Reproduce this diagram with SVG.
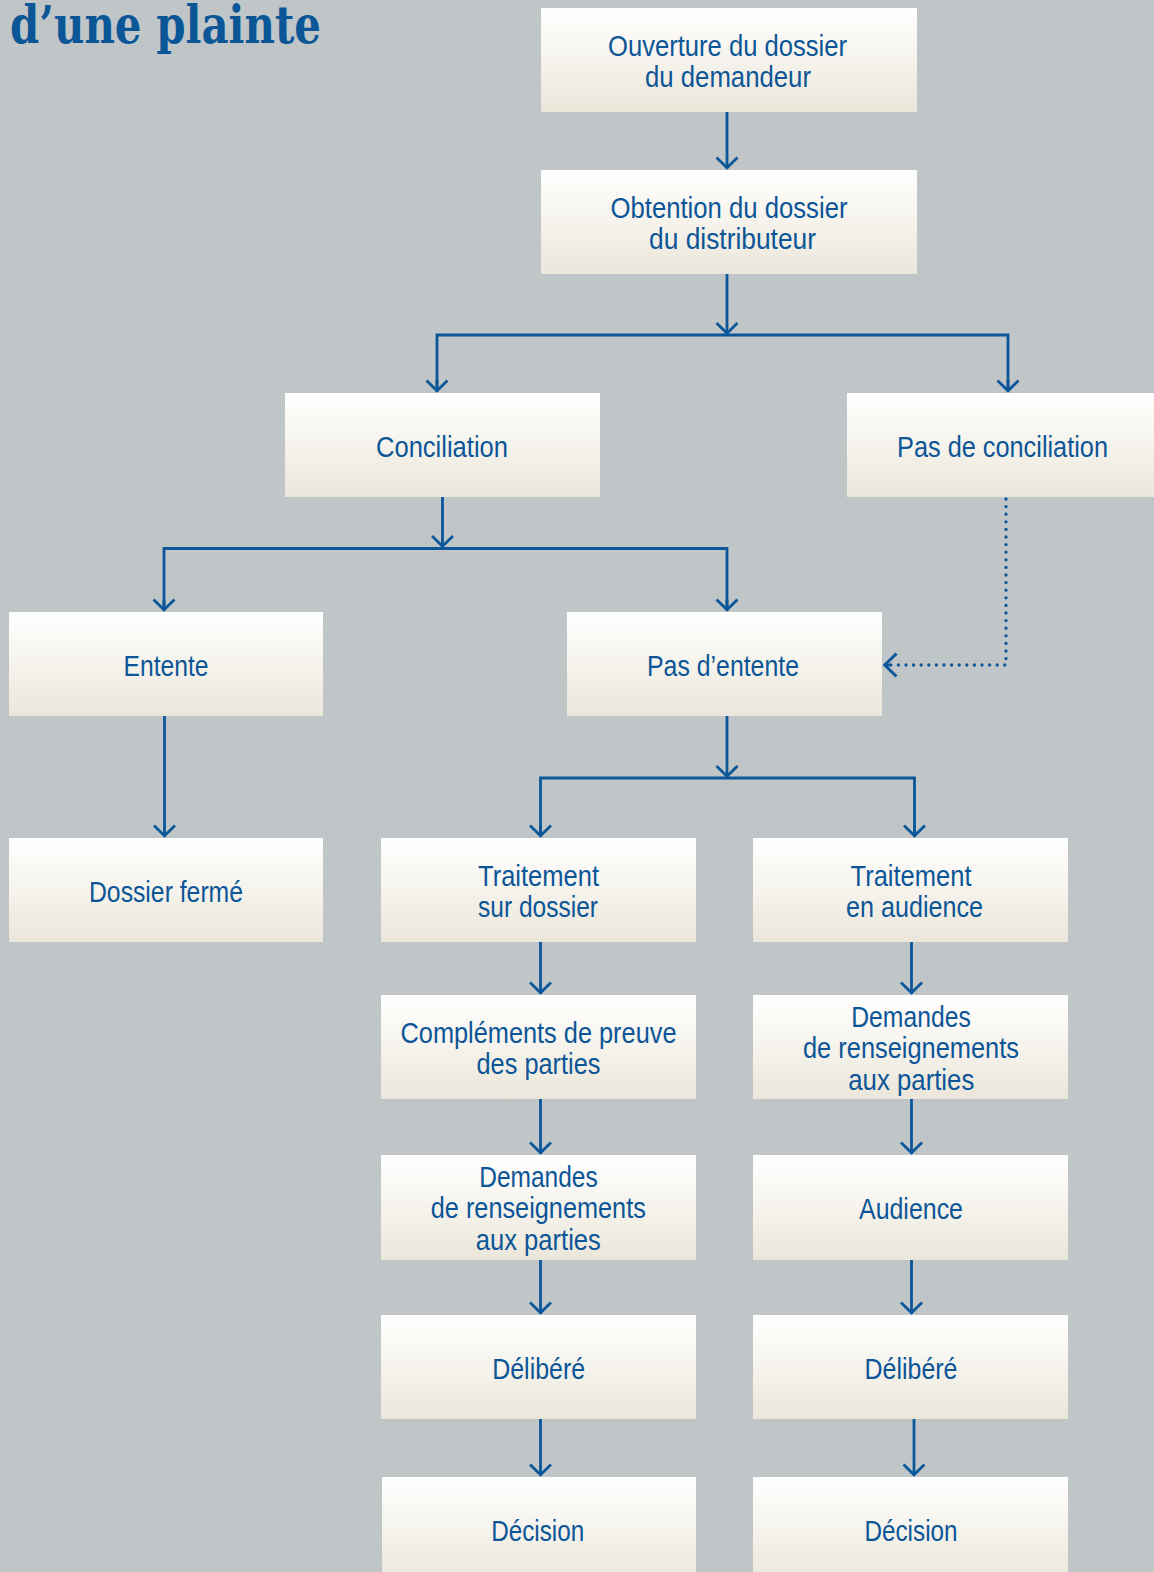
<svg xmlns="http://www.w3.org/2000/svg" width="1154" height="1572" viewBox="0 0 1154 1572">
  <defs>
    <linearGradient id="boxfill" x1="0" y1="0" x2="0" y2="1">
      <stop offset="0" stop-color="#ffffff"/>
      <stop offset="0.5" stop-color="#f5f3ec"/>
      <stop offset="1" stop-color="#ebe6da"/>
    </linearGradient>
    <marker id="arrow" markerUnits="userSpaceOnUse" viewBox="-14 -13 16 26" refX="0" refY="0" markerWidth="16" markerHeight="26" orient="auto">
      <path d="M-11,-10.5 L-0.8,0 L-11,10.5" fill="none" stroke="#0b5799" stroke-width="2.8" stroke-linejoin="miter"/>
    </marker>
    <marker id="arrowdot" markerUnits="userSpaceOnUse" viewBox="-16 -14 18 28" refX="0" refY="0" markerWidth="18" markerHeight="28" orient="auto">
      <path d="M-12.5,-11.5 L-0.8,0 L-12.5,11.5" fill="none" stroke="#0b5799" stroke-width="3" stroke-linejoin="miter"/>
    </marker>
  </defs>
  <style>
    .box { fill: url(#boxfill); }
    .lbl { font-family: "Liberation Sans Narrow", "Liberation Sans", Arial, sans-serif; font-size: 30px; fill: #0c5597; text-anchor: middle; }
    .title { font-family: "DejaVu Serif", "Liberation Serif", serif; font-weight: bold; font-size: 53px; fill: #0a5697; }
    .conn { fill: none; stroke: #0b5799; stroke-width: 2.8; }
    .arr { marker-end: url(#arrow); }
    .dot { fill: none; stroke: #0b5799; stroke-width: 3.3; stroke-linecap: round; stroke-dasharray: 0 7.6; }
  </style>
  <rect x="0" y="0" width="1154" height="1572" fill="#c0c5c8"/>

  <text class="title" x="10" y="43" textLength="311" lengthAdjust="spacingAndGlyphs">d’une plainte</text>

  <g id="connectors">
    <line class="conn arr" x1="727" y1="112" x2="727" y2="168.5"/>
    <line class="conn arr" x1="727" y1="274" x2="727" y2="334"/>
    <polyline class="conn" points="437,391.5 437,335 1008,335 1008,391.5"/>
    <line class="conn arr" x1="437" y1="380" x2="437" y2="391.5"/>
    <line class="conn arr" x1="1008" y1="380" x2="1008" y2="391.5"/>

    <line class="conn arr" x1="442.5" y1="497" x2="442.5" y2="547"/>
    <polyline class="conn" points="164,610.5 164,548.5 727,548.5 727,610.5"/>
    <line class="conn arr" x1="164" y1="600" x2="164" y2="610.5"/>
    <line class="conn arr" x1="727" y1="600" x2="727" y2="610.5"/>

    <polyline class="dot" points="1006,499 1006,665 890,665"/>
    <line class="conn" x1="890" y1="665" x2="884" y2="665" marker-end="url(#arrowdot)" stroke-width="0.1"/>

    <line class="conn arr" x1="164.5" y1="716" x2="164.5" y2="836.5"/>

    <line class="conn arr" x1="727" y1="716" x2="727" y2="777"/>
    <polyline class="conn" points="540.5,836.5 540.5,778 914.5,778 914.5,836.5"/>
    <line class="conn arr" x1="540.5" y1="825" x2="540.5" y2="836.5"/>
    <line class="conn arr" x1="914.5" y1="825" x2="914.5" y2="836.5"/>

    <line class="conn arr" x1="540.5" y1="942" x2="540.5" y2="993.5"/>
    <line class="conn arr" x1="540.5" y1="1099" x2="540.5" y2="1153.5"/>
    <line class="conn arr" x1="540.5" y1="1260" x2="540.5" y2="1313.5"/>
    <line class="conn arr" x1="540.5" y1="1419" x2="540.5" y2="1475.5"/>

    <line class="conn arr" x1="911.5" y1="942" x2="911.5" y2="993.5"/>
    <line class="conn arr" x1="911.5" y1="1099" x2="911.5" y2="1153.5"/>
    <line class="conn arr" x1="911.5" y1="1260" x2="911.5" y2="1313.5"/>
    <line class="conn arr" x1="914" y1="1419" x2="914" y2="1475.5"/>
  </g>

  <g id="n-ouverture">
    <rect class="box" x="541" y="8" width="376" height="104"/>
    <text class="lbl" x="727.5" y="55.5" textLength="239" lengthAdjust="spacingAndGlyphs">Ouverture du dossier</text>
    <text class="lbl" x="728" y="87" textLength="166" lengthAdjust="spacingAndGlyphs">du demandeur</text>
  </g>
  <g id="n-obtention">
    <rect class="box" x="541" y="170" width="376" height="104"/>
    <text class="lbl" x="729" y="217.5" textLength="237" lengthAdjust="spacingAndGlyphs">Obtention du dossier</text>
    <text class="lbl" x="732.5" y="249" textLength="167" lengthAdjust="spacingAndGlyphs">du distributeur</text>
  </g>
  <g id="n-conciliation">
    <rect class="box" x="285" y="393" width="315" height="104"/>
    <text class="lbl" x="442" y="456.5" textLength="132" lengthAdjust="spacingAndGlyphs">Conciliation</text>
  </g>
  <g id="n-pas-conciliation">
    <rect class="box" x="847" y="393" width="320" height="104"/>
    <text class="lbl" x="1002.5" y="456.5" textLength="211" lengthAdjust="spacingAndGlyphs">Pas de conciliation</text>
  </g>
  <g id="n-entente">
    <rect class="box" x="9" y="612" width="314" height="104"/>
    <text class="lbl" x="166" y="675.5" textLength="85" lengthAdjust="spacingAndGlyphs">Entente</text>
  </g>
  <g id="n-pas-entente">
    <rect class="box" x="567" y="612" width="315" height="104"/>
    <text class="lbl" x="723" y="675.5" textLength="152" lengthAdjust="spacingAndGlyphs">Pas d’entente</text>
  </g>
  <g id="n-dossier-ferme">
    <rect class="box" x="9" y="838" width="314" height="104"/>
    <text class="lbl" x="166" y="901.5" textLength="154" lengthAdjust="spacingAndGlyphs">Dossier fermé</text>
  </g>
  <g id="n-traitement-dossier">
    <rect class="box" x="381" y="838" width="315" height="104"/>
    <text class="lbl" x="538.5" y="885.5" textLength="121" lengthAdjust="spacingAndGlyphs">Traitement</text>
    <text class="lbl" x="538" y="917" textLength="120" lengthAdjust="spacingAndGlyphs">sur dossier</text>
  </g>
  <g id="n-traitement-audience">
    <rect class="box" x="753" y="838" width="315" height="104"/>
    <text class="lbl" x="911" y="885.5" textLength="121" lengthAdjust="spacingAndGlyphs">Traitement</text>
    <text class="lbl" x="914.5" y="917" textLength="137" lengthAdjust="spacingAndGlyphs">en audience</text>
  </g>
  <g id="n-complements">
    <rect class="box" x="381" y="995" width="315" height="104"/>
    <text class="lbl" x="538.5" y="1042.5" textLength="276" lengthAdjust="spacingAndGlyphs">Compléments de preuve</text>
    <text class="lbl" x="538.5" y="1074" textLength="124" lengthAdjust="spacingAndGlyphs">des parties</text>
  </g>
  <g id="n-demandes-audience">
    <rect class="box" x="753" y="995" width="315" height="104"/>
    <text class="lbl" x="911" y="1026.7" textLength="119.5" lengthAdjust="spacingAndGlyphs">Demandes</text>
    <text class="lbl" x="911" y="1058" textLength="216" lengthAdjust="spacingAndGlyphs">de renseignements</text>
    <text class="lbl" x="911.3" y="1089.5" textLength="126" lengthAdjust="spacingAndGlyphs">aux parties</text>
  </g>
  <g id="n-demandes-dossier">
    <rect class="box" x="381" y="1155" width="315" height="105"/>
    <text class="lbl" x="538.5" y="1186.7" textLength="118.5" lengthAdjust="spacingAndGlyphs">Demandes</text>
    <text class="lbl" x="538.3" y="1218" textLength="215" lengthAdjust="spacingAndGlyphs">de renseignements</text>
    <text class="lbl" x="538.3" y="1249.5" textLength="125" lengthAdjust="spacingAndGlyphs">aux parties</text>
  </g>
  <g id="n-audience">
    <rect class="box" x="753" y="1155" width="315" height="105"/>
    <text class="lbl" x="911" y="1219" textLength="104" lengthAdjust="spacingAndGlyphs">Audience</text>
  </g>
  <g id="n-delibere-dossier">
    <rect class="box" x="381" y="1315" width="315" height="104"/>
    <text class="lbl" x="538.7" y="1379" textLength="93" lengthAdjust="spacingAndGlyphs">Délibéré</text>
  </g>
  <g id="n-delibere-audience">
    <rect class="box" x="753" y="1315" width="315" height="104"/>
    <text class="lbl" x="911" y="1379" textLength="93" lengthAdjust="spacingAndGlyphs">Délibéré</text>
  </g>
  <g id="n-decision-dossier">
    <rect class="box" x="382" y="1477" width="314" height="104"/>
    <text class="lbl" x="537.7" y="1541" textLength="93" lengthAdjust="spacingAndGlyphs">Décision</text>
  </g>
  <g id="n-decision-audience">
    <rect class="box" x="753" y="1477" width="315" height="104"/>
    <text class="lbl" x="911" y="1541" textLength="93" lengthAdjust="spacingAndGlyphs">Décision</text>
  </g>
</svg>
